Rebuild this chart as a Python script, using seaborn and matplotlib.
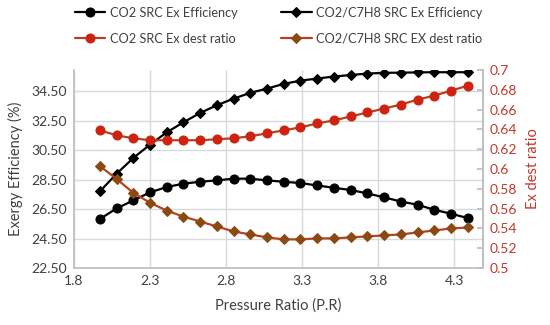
import matplotlib
matplotlib.use("Agg")
import matplotlib.pyplot as plt
import seaborn as sns

pressure_ratio = [1.97, 2.08, 2.19, 2.30, 2.41, 2.52, 2.63, 2.74, 2.85, 2.96, 3.07, 3.18,
                  3.29, 3.40, 3.51, 3.62, 3.73, 3.84, 3.95, 4.06, 4.17, 4.28, 4.39]

co2_ex_eff = [25.83, 26.55, 27.09, 27.64, 28.00, 28.23, 28.36, 28.45, 28.57, 28.57, 28.45, 28.36,
              28.27, 28.11, 27.95, 27.80, 27.57, 27.30, 27.02, 26.80, 26.46, 26.19, 25.90]
mix_ex_eff = [27.70, 28.90, 29.97, 30.88, 31.71, 32.39, 33.03, 33.55, 34.00, 34.39, 34.68, 35.00,
              35.22, 35.36, 35.50, 35.60, 35.70, 35.75, 35.76, 35.78, 35.79, 35.79, 35.79]
co2_dest = [0.639, 0.634, 0.631, 0.629, 0.629, 0.629, 0.629, 0.630, 0.631, 0.633, 0.636, 0.639,
            0.642, 0.646, 0.649, 0.653, 0.657, 0.661, 0.665, 0.670, 0.674, 0.679, 0.684]
mix_dest = [0.603, 0.590, 0.576, 0.566, 0.558, 0.552, 0.547, 0.542, 0.537, 0.534, 0.531, 0.529,
            0.529, 0.530, 0.530, 0.531, 0.532, 0.533, 0.534, 0.536, 0.538, 0.540, 0.541]

left_ticks = [22.5, 24.5, 26.5, 28.5, 30.5, 32.5, 34.5]
right_ticks = [0.5, 0.52, 0.54, 0.56, 0.58, 0.6, 0.62, 0.64, 0.66, 0.68, 0.7]
x_ticks = [1.8, 2.3, 2.8, 3.3, 3.8, 4.3]

sns.set_theme(style="white")
plt.rcParams['font.family'] = ['Lato', 'DejaVu Sans']

red_txt = "#C0392B"
grid_c = "#D9D9D9"

fig, ax = plt.subplots(figsize=(5.5, 3.25), dpi=100)
fig.subplots_adjust(left=0.1345, right=0.878, top=0.785, bottom=0.175)
ax2 = ax.twinx()

sns.lineplot(x=pressure_ratio, y=co2_ex_eff, ax=ax, color="black", lw=1.6,
             marker="o", markersize=6.5, markeredgecolor="black",
             label="CO2 SRC Ex Efficiency", legend=False)
sns.lineplot(x=pressure_ratio, y=mix_ex_eff, ax=ax, color="black", lw=1.6,
             marker="D", markersize=5, markeredgecolor="black",
             label="CO2/C7H8 SRC Ex Efficiency", legend=False)
sns.lineplot(x=pressure_ratio, y=co2_dest, ax=ax2, color="#B8401E", lw=1.6,
             marker="o", markersize=6.5, markerfacecolor="#D42010", markeredgecolor="#C02A10",
             label="CO2 SRC Ex dest ratio", legend=False)
sns.lineplot(x=pressure_ratio, y=mix_dest, ax=ax2, color="#B8401E", lw=1.6,
             marker="D", markersize=5, markerfacecolor="#8B4A14", markeredgecolor="#8B4A14",
             label="CO2/C7H8 SRC EX dest ratio", legend=False)

ax.set_xlim(1.8, 4.49)
ax.set_ylim(22.5, 35.95)
ax2.set_ylim(0.5, 0.7)
ax.set_xticks(x_ticks)
ax.set_xticklabels([f"{v:.1f}" for v in x_ticks])
ax.set_yticks(left_ticks)
ax.set_yticklabels([f"{v:.2f}" for v in left_ticks])
ax2.set_yticks(right_ticks)
ax2.set_yticklabels([f"{v:g}" for v in right_ticks])

ax.grid(True, color=grid_c, lw=1)
ax.set_axisbelow(True)
for a in (ax, ax2):
    a.spines["top"].set_visible(False)
    for s in ("left", "right", "bottom"):
        a.spines[s].set_color("#BFBFBF")
ax2.spines["left"].set_visible(False)
ax2.spines["bottom"].set_visible(False)

ax.tick_params(axis="both", length=0, labelsize=10, colors="#404040", pad=5)
ax2.tick_params(axis="y", direction="in", length=4, color="#BFBFBF",
                labelsize=10, labelcolor=red_txt, pad=5)

ax.set_xlabel("Pressure Ratio (P.R)", fontsize=10.5, color="#404040", labelpad=8)
ax.set_ylabel("Exergy Efficiency (%)", fontsize=10.5, color="#404040", labelpad=6)
ax2.set_ylabel("Ex dest ratio", fontsize=10.5, color=red_txt, labelpad=6)

# legend: row 1 efficiencies, row 2 destruction ratios (column-major fill)
h1, l1 = ax.get_legend_handles_labels()
h2, l2 = ax2.get_legend_handles_labels()
handles = [h1[0], h2[0], h1[1], h2[1]]
labels = [l1[0], l2[0], l1[1], l2[1]]
fig.legend(handles, labels, ncol=2, loc="upper left", bbox_to_anchor=(0.115, 1.015),
           frameon=False, fontsize=9.2, handlelength=2.4, columnspacing=3.4,
           handletextpad=0.35, labelspacing=1.1, labelcolor="#404040")

fig.savefig("out.png", dpi=100)
